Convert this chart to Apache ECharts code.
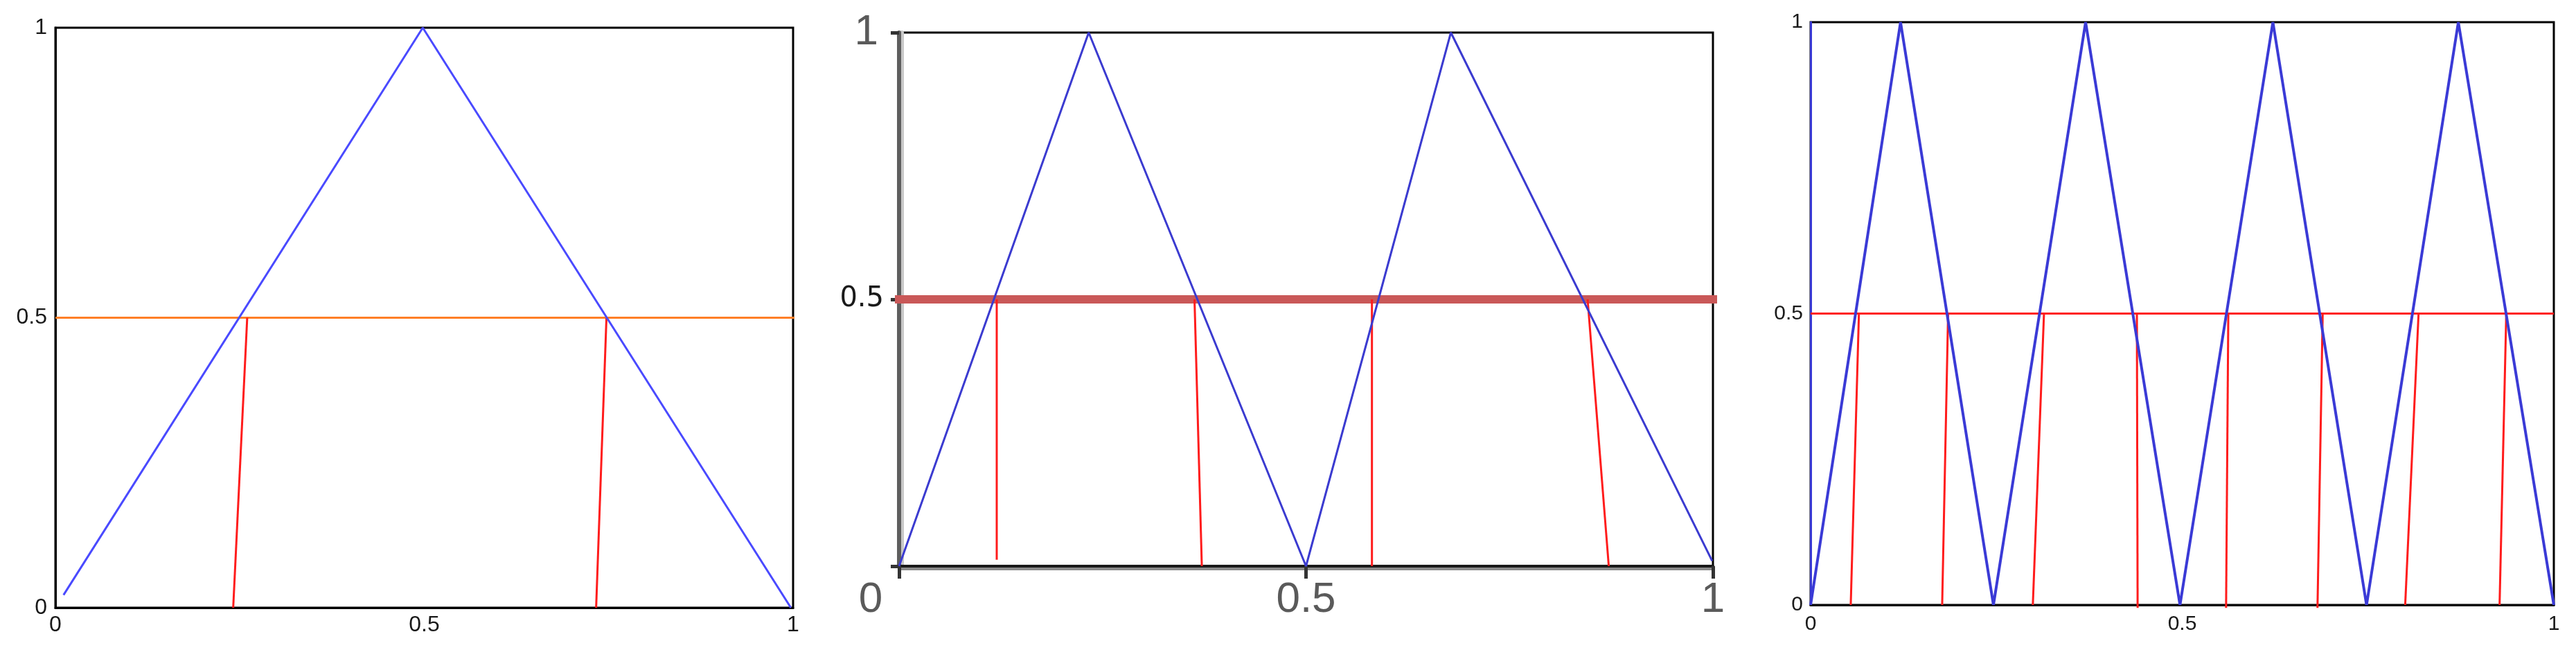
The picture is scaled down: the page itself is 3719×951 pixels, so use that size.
<!DOCTYPE html>
<html>
<head>
<meta charset="utf-8">
<script src="https://cdn.jsdelivr.net/npm/echarts@6/dist/echarts.min.js"></script>
<style>
html,body{margin:0;padding:0;background:#fff;}
#c{width:3719px;height:951px;}
</style>
</head>
<body>
<div id="c"></div>
<script>
// ---- data ----
const xTicks = [0, 0.5, 1];

// panel 1: single triangle, orange level, two drop lines
const p1Tri = [[0.011, 0.022], [0.498, 1], [0.997, 0]];
const p1Level = [[0, 0.5], [1.01, 0.5]];
const p1Drops = [
  [[0.260, 0.5], [0.241, 0]],
  [[0.747, 0.5], [0.733, 0]]
];

// panel 2: two teeth, thick level, four drop lines
const p2Wave = [[0, 0], [0.233, 1], [0.5, 0], [0.678, 1], [0.999, 0.01]];
const p2Level = [[-0.01, 0.5], [1.015, 0.5]];
const p2Drops = [
  [[0.120, 0.5], [0.120, 0.012]],
  [[0.363, 0.5], [0.372, 0]],
  [[0.581, 0.5], [0.581, 0]],
  [[0.846, 0.5], [0.872, 0]]
];

// panel 3: four teeth, red level, eight drop lines
const p3Wave = [[0, 0], [0.121, 1], [0.246, 0], [0.370, 1], [0.497, 0], [0.622, 1], [0.748, 0], [0.8715, 1], [1, 0]];
const p3Level = [[0, 0.5], [1, 0.5]];
const p3Drops = [
  [[0.065, 0.5], [0.054, 0]],
  [[0.185, 0.5], [0.177, 0]],
  [[0.314, 0.5], [0.299, 0]],
  [[0.439, 0.5], [0.440, -0.005]],
  [[0.562, 0.5], [0.559, -0.005]],
  [[0.689, 0.5], [0.682, -0.005]],
  [[0.818, 0.5], [0.800, 0]],
  [[0.936, 0.5], [0.927, 0]]
];

// ---- chart ----
const chart = echarts.init(document.getElementById('c'), null, {renderer: 'canvas'});

function lineSeries(idx, data, color, width, z, clip) {
  return {
    type: 'line', xAxisIndex: idx, yAxisIndex: idx, data: data,
    showSymbol: false, symbol: 'none', animation: false, silent: true,
    clip: clip !== false,
    lineStyle: {color: color, width: width}, z: z
  };
}

const fmt = v => (v === 0 ? '0' : v === 0.5 ? '0.5' : v === 1 ? '1' : '');

const series = [];
// panel 1
series.push(lineSeries(0, p1Level, '#ff7f27', 3, 2, false));
p1Drops.forEach(d => series.push(lineSeries(0, d, '#ff1c1c', 3, 3)));
series.push(lineSeries(0, p1Tri, '#4a4aff', 3, 4));
// panel 2
series.push(lineSeries(1, p2Level, '#c95858', 12, 2, false));
p2Drops.forEach(d => series.push(lineSeries(1, d, '#ff1c1c', 3, 3)));
series.push(lineSeries(1, p2Wave, '#3b3bd0', 3, 4));
// panel 3
series.push(lineSeries(2, p3Level, '#ff1c1c', 3, 2));
p3Drops.forEach(d => series.push(lineSeries(2, d, '#ff1c1c', 3, 3, false)));
series.push(lineSeries(2, p3Wave, '#3a3ad6', 4, 4));

const baseFont = 'Liberation Sans';

const option = {
  backgroundColor: '#ffffff',
  animation: false,
  grid: [
    {left: 80, top: 40, width: 1065, height: 837, show: true, borderColor: '#000', borderWidth: 3, outerBoundsMode: 'none', containLabel: false},
    {left: 1298, top: 47, width: 1175, height: 770, show: true, borderColor: '#000', borderWidth: 3, outerBoundsMode: 'none', containLabel: false},
    {left: 2614, top: 32, width: 1073, height: 841, show: true, borderColor: '#000', borderWidth: 3, outerBoundsMode: 'none', containLabel: false}
  ],
  xAxis: [
    {
      gridIndex: 0, type: 'value', min: 0, max: 1, interval: 0.5,
      axisLine: {show: true, lineStyle: {color: '#000', width: 3}},
      axisTick: {show: false}, splitLine: {show: false},
      axisLabel: {formatter: fmt, color: '#1a1a1a', fontFamily: baseFont, fontSize: 32, margin: 9}
    },
    {
      gridIndex: 1, type: 'value', min: 0, max: 1, interval: 0.5,
      axisLine: {show: true, lineStyle: {color: '#1a1a1a', width: 4, shadowColor: '#8a8a8a', shadowOffsetY: 4, shadowBlur: 0}},
      axisTick: {show: true, length: 18, lineStyle: {color: '#333', width: 5}},
      splitLine: {show: false},
      axisLabel: {
        formatter: v => (v === 0 ? '{z|0}' : fmt(v)),
        color: '#5a5a5a', fontFamily: baseFont, fontSize: 62, margin: 18,
        rich: {z: {color: '#5a5a5a', fontFamily: baseFont, fontSize: 62, padding: [0, 82, 0, 0]}}
      }
    },
    {
      gridIndex: 2, type: 'value', min: 0, max: 1, interval: 0.5,
      axisLine: {show: true, lineStyle: {color: '#000', width: 3}},
      axisTick: {show: false}, splitLine: {show: false},
      axisLabel: {formatter: fmt, color: '#1a1a1a', fontFamily: baseFont, fontSize: 30, margin: 13}
    }
  ],
  yAxis: [
    {
      gridIndex: 0, type: 'value', min: 0, max: 1, interval: 0.5,
      axisLine: {show: true, lineStyle: {color: '#000', width: 3}},
      axisTick: {show: false}, splitLine: {show: false},
      axisLabel: {formatter: fmt, color: '#1a1a1a', fontFamily: baseFont, fontSize: 32, margin: 12}
    },
    {
      gridIndex: 1, type: 'value', min: 0, max: 1, interval: 0.5,
      axisLine: {show: true, lineStyle: {color: '#5e5e5e', width: 6, shadowColor: '#c8c8c8', shadowOffsetX: 4, shadowBlur: 0}},
      axisTick: {show: true, length: 12, lineStyle: {color: '#333', width: 5}},
      splitLine: {show: false},
      axisLabel: {
        formatter: v => (v === 1 ? '{b|1}' : v === 0.5 ? '{s|0.5}' : ''),
        margin: 22,
        rich: {
          b: {color: '#5a5a5a', fontFamily: baseFont, fontSize: 62, padding: [0, 8, 0, 0]},
          s: {color: '#1a1a1a', fontFamily: 'DejaVu Sans', fontSize: 40}
        }
      }
    },
    {
      gridIndex: 2, type: 'value', min: 0, max: 1, interval: 0.5,
      axisLine: {show: true, lineStyle: {color: '#3a3ad6', width: 3}},
      axisTick: {show: false}, splitLine: {show: false},
      axisLabel: {formatter: fmt, color: '#1a1a1a', fontFamily: baseFont, fontSize: 30, margin: 11}
    }
  ],
  series: series
};

chart.setOption(option);
</script>
</body>
</html>
